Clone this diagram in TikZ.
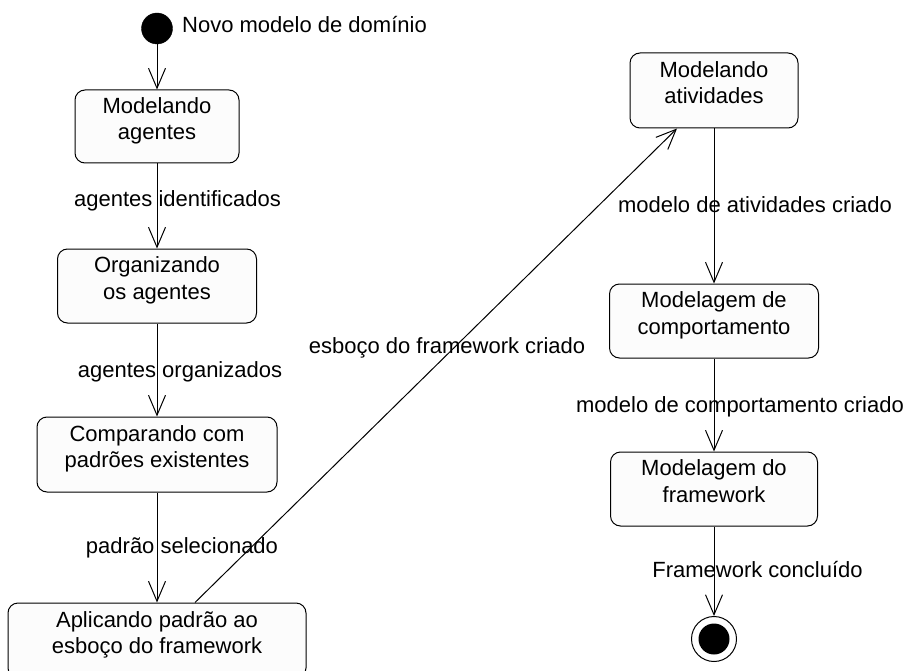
\documentclass[tikz,border=0pt]{standalone}
\usepackage{fontspec}
\setmainfont{Liberation Sans}
\usetikzlibrary{arrows.meta}
\definecolor{boxfill}{RGB}{252,252,252}
\newcommand\twolines[2]{\rule{0pt}{16pt}#1\\#2\rule[-16pt]{0pt}{0pt}}
\tikzset{
  statebox/.style={draw=black, line width=1pt, fill=boxfill, rounded corners=10pt,
    align=center, inner sep=3pt, font=\fontsize{22}{26.5}\selectfont},
  lbl/.style={anchor=base, inner sep=0pt, font=\fontsize{22}{26.5}\selectfont},
  flow/.style={draw=black, line width=1pt, -{Straight Barb[length=20pt,width=17pt,line width=1pt]}},
}
\begin{document}
\begin{tikzpicture}[x=1pt,y=-1pt]
\useasboundingbox (0,0) rectangle (909,671);
\clip (0,0) rectangle (909,671);
% start
\node[circle, fill=black, draw=black, minimum size=31pt, inner sep=0pt] (start) at (157,28.5) {};
\node[lbl, anchor=base west] (startlbl) at (182,33) {Novo modelo de domínio};
% left column
\node[statebox, minimum width=164pt, minimum height=73pt] (b1) at (157,126.5) {\twolines{Modelando}{agentes}};
\node[statebox, minimum width=199pt, minimum height=74pt] (b2) at (157,286) {\twolines{Organizando}{os agentes}};
\node[statebox, minimum width=240pt, minimum height=75pt] (b3) at (157,454.5) {\twolines{Comparando com}{padrões existentes}};
\node[statebox, minimum width=298pt, minimum height=75pt] (b4) at (157,640.5) {\twolines{Aplicando padrão ao}{esboço do framework}};
% right column
\node[statebox, minimum width=168pt, minimum height=75pt] (b5) at (714,90.5) {\twolines{Modelando}{atividades}};
\node[statebox, minimum width=209pt, minimum height=74pt] (b6) at (714,321) {\twolines{Modelagem de}{comportamento}};
\node[statebox, minimum width=207pt, minimum height=74pt] (b7) at (714,489) {\twolines{Modelagem do}{framework}};
% end
\node[circle, draw=black, line width=1pt, fill=white, minimum size=45pt, inner sep=0pt] (final) at (714,639) {};
\node[circle, fill=black, minimum size=31pt, inner sep=0pt] (finalin) at (final.center) {};
% connectors
\draw[flow] (start) -- (b1);
\draw[flow] (b1) -- (b2);
\draw[flow] (b2) -- (b3);
\draw[flow] (b3) -- (b4);
\draw[flow] ([xshift=38pt]b4.north) -- ([xshift=-37pt]b5.south);
\draw[flow] (b5) -- (b6);
\draw[flow] (b6) -- (b7);
\draw[flow] (b7) -- (final);
% labels
\node[lbl] (l1) at (177.5,206) {agentes identificados};
\node[lbl] (l2) at (180,377) {agentes organizados};
\node[lbl] (l3) at (182,553) {padrão selecionado};
\node[lbl] (l4) at (447,353) {esboço do framework criado};
\node[lbl] (l5) at (755,212) {modelo de atividades criado};
\node[lbl] (l6) at (740,412) {modelo de comportamento criado};
\node[lbl] (l7) at (757.5,577) {Framework concluído};
\end{tikzpicture}
\end{document}
